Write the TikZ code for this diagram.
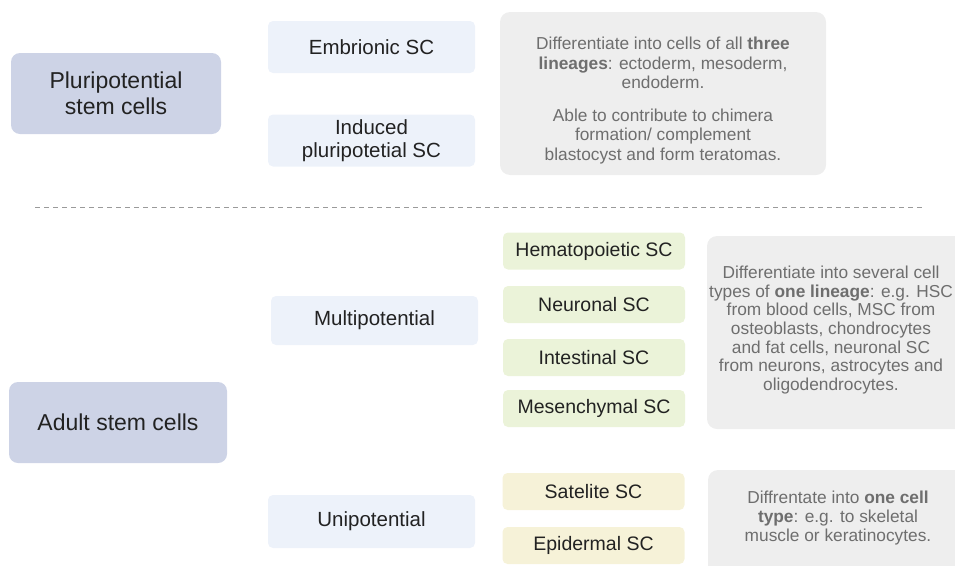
\documentclass[tikz,border=0pt]{standalone}
\usepackage{fontspec}
\setmainfont{Liberation Sans}

\definecolor{groupfill}{HTML}{CDD3E6}
\definecolor{kindfill}{HTML}{EDF2FA}
\definecolor{notefill}{HTML}{EEEEEE}
\definecolor{multifill}{HTML}{EBF3D9}
\definecolor{unifill}{HTML}{F6F2D8}
\definecolor{darktext}{HTML}{222222}
\definecolor{notetext}{HTML}{6E6E6E}

\begin{document}
\begin{tikzpicture}[x=1pt, y=-1pt,
	group/.style={fill=groupfill, rounded corners=9pt, inner sep=0pt, minimum width=210pt, minimum height=81pt,
		align=center, text=darktext, font=\fontsize{23}{26}\selectfont},
	kind/.style={fill=kindfill, rounded corners=5pt, inner sep=0pt, minimum width=207pt, minimum height=52pt,
		align=center, text=darktext, font=\fontsize{20.5}{23}\selectfont},
	cell/.style={rounded corners=5pt, inner sep=0pt, minimum width=182pt, minimum height=37pt,
		text=darktext, font=\fontsize{19.5}{22}\selectfont},
	note/.style={align=center, text=notetext, font=\fontsize{17.3}{19.3}\selectfont}]
	\useasboundingbox (0,0) rectangle (955,565);

	% pluripotential part
	\node[group] (pluri) at (116,93.5) {Pluripotential\\stem cells};
	\node[kind] (embr) at (371.5,47) {Embrionic SC};
	\node[kind] (ipsc) at (371.5,140.5) {Induced\\pluripotetial SC};
	\fill[notefill, rounded corners=10pt] (500,12) rectangle (826,175);
	\node[note] (pluridesc) at (663,100.5) {Differentiate into cells of all \textbf{three}\\
		\textbf{lineages}: ectoderm, mesoderm,\\ endoderm.\\[14pt]
		Able to contribute to chimera\\ formation/ complement\\ blastocyst and form teratomas.};

	\draw[notetext!70, dashed, dash pattern=on 5pt off 4pt] (35,207) -- (925,207);

	% adult part
	\node[group, minimum width=218pt] (adult) at (118,422.5) {Adult stem cells};
	\node[kind, minimum height=49pt] (multi) at (374.5,320.5) {Multipotential};
	\node[kind, minimum height=53pt] (uni) at (371.5,521.5) {Unipotential};

	\node[cell, fill=multifill] (hsc) at (594,251) {Hematopoietic SC};
	\node[cell, fill=multifill] (nsc) at (594,304.5) {Neuronal SC};
	\node[cell, fill=multifill] (isc) at (594,357.5) {Intestinal SC};
	\node[cell, fill=multifill] (msc) at (594,408.5) {Mesenchymal SC};
	\node[cell, fill=unifill] (sat) at (593.5,491.5) {Satelite SC};
	\node[cell, fill=unifill] (epi) at (593.5,545.5) {Epidermal SC};

	\fill[notefill, rounded corners=10pt] (707,236) rectangle (975,429);
	\node[note, font=\fontsize{17.3}{18.6}\selectfont] (multidesc) at (831,330) {Differentiate into several cell\\
		types of \textbf{one lineage}: e.g. HSC\\ from blood cells, MSC from\\ osteoblasts, chondrocytes\\
		and fat cells, neuronal SC\\ from neurons, astrocytes and\\ oligodendrocytes.};
	\fill[notefill, rounded corners=10pt] (708,470) rectangle (975,585);
	\node[note, font=\fontsize{17.3}{19}\selectfont] (unidesc) at (838,518.5) {Diffrentate into \textbf{one cell}\\
		\textbf{type}: e.g. to skeletal\\ muscle or keratinocytes.};
\end{tikzpicture}
\end{document}
